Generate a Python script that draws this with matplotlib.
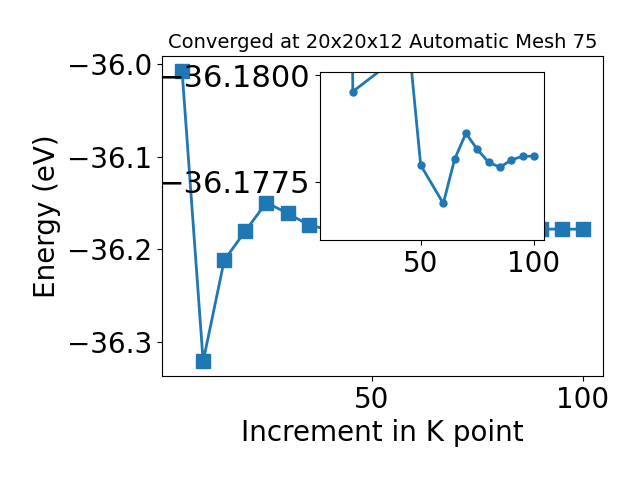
import matplotlib
matplotlib.use("Agg")
import matplotlib.pyplot as plt

# Main series: energy vs k-point increment
kpoints = [5, 10, 15, 20, 25, 30, 35, 40, 45, 50, 55, 60, 65, 70, 75, 80, 85, 90, 95, 100]
energy = [-36.0069, -36.3209, -36.2116, -36.1800, -36.1494, -36.1610, -36.1735, -36.1790,
          -36.1806, -36.1779, -36.1775, -36.1770, -36.1780, -36.1786, -36.1783, -36.1780,
          -36.1778, -36.1780, -36.1781, -36.1781]

# Inset series (zoomed view)
kpoints_in = [10, 15, 20, 45, 50, 60, 65, 70, 75, 80, 85, 90, 95, 100]
energy_in = [-36.3209, -36.2116, -36.17962, -36.18064, -36.17789, -36.17699, -36.17803,
             -36.17864, -36.17826, -36.17796, -36.17784, -36.17801, -36.17810, -36.17810]

main_yticks = [-36.0, -36.1, -36.2, -36.3]
inset_yticks = [-36.1800, -36.1775]
xticks = [50, 100]

fig = plt.figure(figsize=(6.4, 4.8), dpi=100)
ax = fig.add_axes([162/640, 1-376/480, (603-162)/640, (376-56)/480])
ax.plot(kpoints, energy, color='C0', marker='s', markersize=10, linewidth=2)
ax.set_xticks(xticks)
ax.set_yticks(main_yticks)
ax.tick_params(labelsize=20)
ax.set_xlabel('Increment in K point', fontsize=20)
ax.set_ylabel('Energy (eV)', fontsize=20)
ax.set_title('Converged at 20x20x12 Automatic Mesh 75', fontsize=14)

axin = fig.add_axes([0.5, 0.5, 0.35, 0.35])
axin.plot(kpoints_in, energy_in, color='C0', marker='o', markersize=5, linewidth=2)
axin.set_ylim(-36.17613, -36.18008)
axin.set_xticks(xticks)
axin.set_yticks(inset_yticks)
axin.set_yticklabels([('%.4f' % v).replace('-', '\u2212') for v in inset_yticks])
axin.tick_params(axis='x', labelsize=20)
axin.tick_params(axis='y', labelsize=22)

fig.savefig('out.png', dpi=100)
